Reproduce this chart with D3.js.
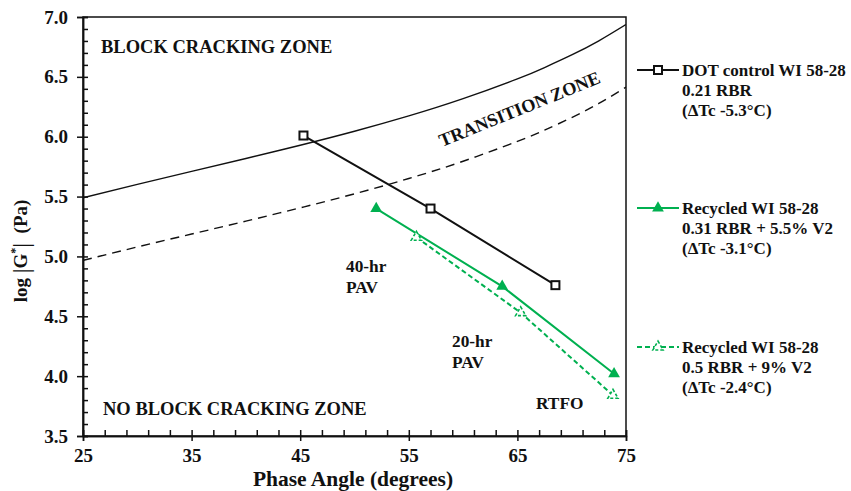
<!DOCTYPE html>
<html>
<head>
<meta charset="utf-8">
<script src="https://cdn.jsdelivr.net/npm/d3@7"></script>
<style>
  html, body { margin: 0; padding: 0; background: #fff; }
  svg { display: block; }
  text { font-family: "Liberation Serif", "Times New Roman", serif; font-weight: bold; fill: #111; }
</style>
</head>
<body>
<div id="chart"></div>
<script>
// ---------- data ----------
const xTicks = [25, 35, 45, 55, 65, 75];
const yTicks = [3.5, 4.0, 4.5, 5.0, 5.5, 6.0, 6.5, 7.0];

// boundary curves (phase angle, log|G*|)
const boundaryAngle  = [25, 30, 35, 40, 45, 50, 55, 60, 65, 67.5, 70, 72.5, 75];
const boundarySolid  = [5.490, 5.602, 5.710, 5.818, 5.929, 6.046, 6.174, 6.318, 6.483, 6.578, 6.683, 6.801, 6.937];
const boundaryDashed = [4.967, 5.079, 5.187, 5.295, 5.406, 5.523, 5.651, 5.795, 5.961, 6.055, 6.160, 6.278, 6.414];

// series
const dotAngle = [45.3, 57.0, 68.5];
const dotLogG  = [6.01, 5.40, 4.76];
const rec31Angle = [52.0, 63.6, 73.9];
const rec31LogG  = [5.40, 4.75, 4.02];
const rec5Angle  = [55.7, 65.3, 73.8];
const rec5LogG   = [5.16, 4.53, 3.84];

const legendLabels = [
  ["DOT control WI 58-28", "0.21 RBR", "(\u0394Tc -5.3\u00B0C)"],
  ["Recycled WI 58-28", "0.31 RBR + 5.5% V2", "(\u0394Tc -3.1\u00B0C)"],
  ["Recycled WI 58-28", "0.5 RBR + 9% V2", "(\u0394Tc -2.4\u00B0C)"]
];

const GREEN = "#00b050";
const W = 851, H = 491;
const x = d3.scaleLinear().domain([25, 75]).range([83, 626]);
const y = d3.scaleLinear().domain([3.5, 7.0]).range([436, 17]);

const svg = d3.select("#chart").append("svg").attr("width", W).attr("height", H);

// clip
svg.append("clipPath").attr("id", "clip").append("rect")
  .attr("x", x(25)).attr("y", y(7)).attr("width", x(75) - x(25)).attr("height", y(3.5) - y(7));

// boundary curves
const bLine = (vals) => d3.line().curve(d3.curveNatural)
  .x((d, i) => x(boundaryAngle[i])).y(d => y(d))(vals);
svg.append("path").attr("d", bLine(boundarySolid)).attr("fill", "none")
  .attr("stroke", "#111").attr("stroke-width", 1.4).attr("clip-path", "url(#clip)");
svg.append("path").attr("d", bLine(boundaryDashed)).attr("fill", "none")
  .attr("stroke", "#111").attr("stroke-width", 1.4).attr("stroke-dasharray", "9,6").attr("clip-path", "url(#clip)");

// frame
svg.append("rect").attr("x", x(25)).attr("y", y(7)).attr("width", x(75) - x(25)).attr("height", y(3.5) - y(7))
  .attr("fill", "none").attr("stroke", "#111").attr("stroke-width", 1.5);

// axes
const xMinor = d3.range(25, 75.01, 2);
const yMinor = d3.range(35, 70.01, 1).map(v => v / 10);
const gx = svg.append("g").attr("transform", `translate(0,${y(3.5)})`);
gx.call(d3.axisBottom(x).tickValues(xTicks).tickSize(5).tickPadding(8).tickFormat(d3.format("d")));
gx.append("g").call(d3.axisBottom(x).tickValues(xMinor).tickSize(-6).tickFormat(""));
const gy = svg.append("g").attr("transform", `translate(${x(25)},0)`);
gy.call(d3.axisLeft(y).tickValues(yTicks).tickSize(6).tickPadding(9).tickFormat(d3.format(".1f")));
gy.append("g").call(d3.axisLeft(y).tickValues(yMinor).tickSize(-5).tickFormat(""));
svg.selectAll(".domain").attr("stroke", "#111").attr("stroke-width", 1.5);
svg.selectAll(".tick line").attr("stroke", "#111").attr("stroke-width", 1.5);
[gx, gy].forEach(g => g.selectAll(".tick text").style("font-size", "19px")
  .style("font-family", "Liberation Serif").style("font-weight", "bold").attr("fill", "#111"));

// axis titles
svg.append("text").attr("x", 353).attr("y", 486).attr("text-anchor", "middle")
  .style("font-size", "21.5px").text("Phase Angle (degrees)");
const yl = svg.append("text").attr("transform", "translate(27,251) rotate(-90)").attr("text-anchor", "middle")
  .style("font-size", "19px");
yl.append("tspan").text("log ");
yl.append("tspan").style("font-size", "24px").style("font-weight", "normal").attr("dy", 2).text("|");
yl.append("tspan").attr("dy", -2).text("G");
yl.append("tspan").style("font-size", "12px").attr("dy", -8).text("*");
yl.append("tspan").style("font-size", "24px").style("font-weight", "normal").attr("dy", 10).text("|");
yl.append("tspan").attr("dy", -2).text("\u00A0 (Pa)");

// zone labels
svg.append("text").attr("x", 101).attr("y", 53).style("font-size", "18.5px").text("BLOCK CRACKING ZONE");
svg.append("text").attr("x", 103).attr("y", 415).style("font-size", "18.5px").text("NO BLOCK CRACKING ZONE");
svg.append("text").attr("transform", "translate(442,147) rotate(-22)").style("font-size", "18.3px").text("TRANSITION ZONE");
const ann = [["40-hr", 346, 272], ["PAV", 346, 293], ["20-hr", 452, 347], ["PAV", 452, 368], ["RTFO", 536, 409]];
ann.forEach(a => svg.append("text").attr("x", a[1]).attr("y", a[2]).style("font-size", "17.3px").text(a[0]));

// series lines
const line = (xs, ys) => d3.line()(xs.map((v, i) => [x(v), y(ys[i])]));
svg.append("path").attr("d", line(dotAngle, dotLogG)).attr("fill", "none").attr("stroke", "#111").attr("stroke-width", 2);
svg.append("path").attr("d", line(rec31Angle, rec31LogG)).attr("fill", "none").attr("stroke", GREEN).attr("stroke-width", 2);
svg.append("path").attr("d", line(rec5Angle, rec5LogG)).attr("fill", "none").attr("stroke", GREEN).attr("stroke-width", 2).attr("stroke-dasharray", "5,3");

// markers
const sq = (g, cx, cy) => g.append("rect").attr("x", cx - 4).attr("y", cy - 4).attr("width", 8).attr("height", 8)
  .attr("fill", "#fff").attr("stroke", "#111").attr("stroke-width", 2);
const triFilled = (g, cx, cy) => g.append("path").attr("d", d3.symbol().type(d3.symbolTriangle).size(60)())
  .attr("transform", `translate(${cx},${cy})`).attr("fill", GREEN);
const triOpen = (g, cx, cy) => g.append("path").attr("d", d3.symbol().type(d3.symbolTriangle).size(45)())
  .attr("transform", `translate(${cx},${cy})`).attr("fill", "#fff").attr("stroke", GREEN).attr("stroke-width", 1.6).attr("stroke-dasharray", "3,2");

dotAngle.forEach((v, i) => sq(svg, x(v), y(dotLogG[i])));
rec31Angle.forEach((v, i) => triFilled(svg, x(v), y(rec31LogG[i])));
rec5Angle.forEach((v, i) => triOpen(svg, x(v), y(rec5LogG[i])));

// legend
const legY = [70, 208, 347];
const lg = svg.append("g");
legY.forEach((ly, i) => {
  const l = lg.append("line").attr("x1", 637).attr("x2", 679).attr("y1", ly).attr("y2", ly).attr("stroke-width", 2);
  if (i === 0) { l.attr("stroke", "#111"); sq(lg, 658, ly); }
  if (i === 1) { l.attr("stroke", GREEN); triFilled(lg, 658, ly); }
  if (i === 2) { l.attr("stroke", GREEN).attr("stroke-dasharray", "5,3"); triOpen(lg, 658, ly); }
  legendLabels[i].forEach((t, j) => lg.append("text").attr("x", 682).attr("y", ly + 6 + j * 20)
    .style("font-size", "17px").text(t));
});
</script>
</body>
</html>
